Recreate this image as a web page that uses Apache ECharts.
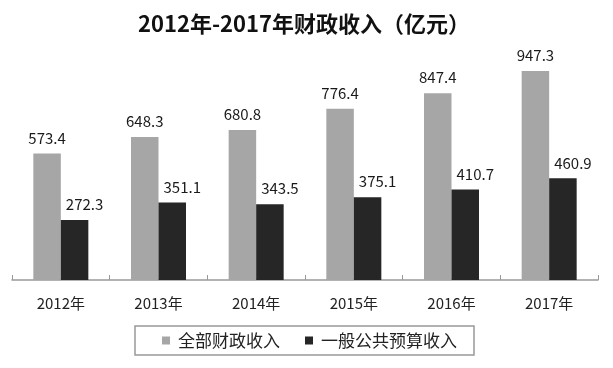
<!DOCTYPE html>
<html>
<head>
<meta charset="utf-8">
<script src="https://cdn.jsdelivr.net/npm/echarts@6/dist/echarts.min.js"></script>
<style>
html,body{margin:0;padding:0;background:#fff;}
#chart{width:613px;height:368px;}
</style>
</head>
<body>
<div id="chart"></div>
<script>
const categories = ['2012年','2013年','2014年','2015年','2016年','2017年'];
const totalRevenue = [573.4, 648.3, 680.8, 776.4, 847.4, 947.3];
const budgetRevenue = [272.3, 351.1, 343.5, 375.1, 410.7, 460.9];
const seriesNames = ['全部财政收入', '一般公共预算收入'];
const titleText = '2012年-2017年财政收入（亿元）';

const FONT = '"Noto Sans CJK SC", "Noto Sans", sans-serif';
const chart = echarts.init(document.getElementById('chart'));
chart.setOption({
  backgroundColor: '#fff',
  animation: false,
  title: {
    text: titleText,
    left: 299, textAlign: 'center',
    top: 8,
    textStyle: { fontFamily: FONT, fontSize: 22, fontWeight: 'bold', color: '#111' }
  },
  legend: {
    data: seriesNames,
    left: 135, top: 326,
    orient: 'horizontal',
    padding: [6, 17, 6, 27],
    itemGap: 25,
    itemWidth: 8, itemHeight: 8,
    icon: 'rect',
    borderColor: '#999', borderWidth: 1.5,
    textStyle: { fontFamily: FONT, fontSize: 17, color: '#222', padding: [0, 0, 0, 3] }
  },
  grid: { left: 12, right: 15, top: 59.5, bottom: 88, containLabel: false },
  xAxis: {
    type: 'category',
    data: categories,
    axisLine: { lineStyle: { color: '#999', width: 1.5 } },
    axisTick: { show: true, inside: true, length: 5, lineStyle: { color: '#999' } },
    axisLabel: { margin: 16, fontFamily: FONT, fontSize: 15, color: '#222' }
  },
  yAxis: {
    type: 'value', min: 0, max: 1000,
    show: false,
    splitLine: { show: false }
  },
  series: [
    {
      name: seriesNames[0], type: 'bar', data: totalRevenue,
      barWidth: 27.5, barGap: '0%',
      itemStyle: { color: '#a6a6a6' },
      label: { show: true, position: 'top', distance: 8, fontFamily: FONT, fontSize: 15, color: '#1a1a1a' }
    },
    {
      name: seriesNames[1], type: 'bar', data: budgetRevenue,
      barWidth: 27.5, barGap: '0%',
      itemStyle: { color: '#262626' },
      label: { show: true, position: 'top', distance: 8, offset: [10, 0], fontFamily: FONT, fontSize: 15, color: '#1a1a1a' }
    }
  ]
});
</script>
</body>
</html>
